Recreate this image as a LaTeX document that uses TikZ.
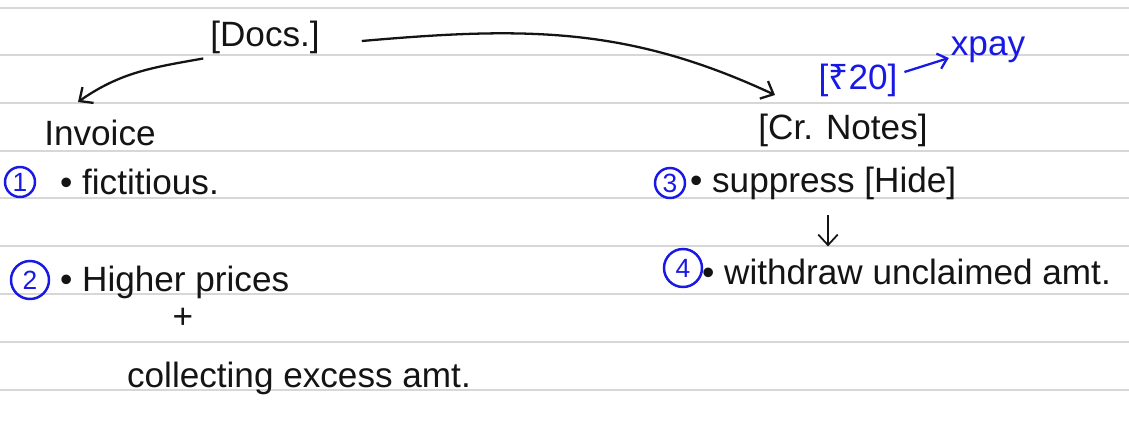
\documentclass[tikz,border=0pt]{standalone}
\usepackage{fontspec}
\setmainfont{Liberation Sans}
\newfontfamily\rupeefont{Noto Sans}
\usetikzlibrary{arrows.meta}
\definecolor{rule}{RGB}{215,215,215}
\definecolor{ink}{RGB}{20,20,20}
\definecolor{pen}{RGB}{25,25,230}
\tikzset{
  ruleline/.style={draw=rule, line width=0.8pt},
  hand/.style={text=ink, font=\fontsize{20}{22}\selectfont, inner sep=1pt},
  bluehand/.style={text=pen, font=\fontsize{20}{22}\selectfont, inner sep=1pt},
  num/.style={circle, draw=pen, line width=1.4pt, text=pen, inner sep=0pt, minimum size=0.6cm, font=\fontsize{15}{16}\selectfont},
  bignum/.style={num, minimum size=0.76cm},
  conn/.style={draw=ink, line width=1.3pt, -{Straight Barb[length=6pt,width=11pt]}},
  bconn/.style={draw=pen, line width=1.3pt, -{Straight Barb[length=5pt,width=9pt]}}
}
\begin{document}
\begin{tikzpicture}[x=0.02cm,y=-0.02cm]
\fill[white] (0,0) rectangle (1129,427);
\useasboundingbox (0,0) rectangle (1129,427);
\foreach \yy in {8,55,103,151,198,246,294,342,390}
  \draw[ruleline] (0,\yy) -- (1129,\yy);

% left branch
\node[hand] (docs) at (265,37) {[Docs.]};
\node[hand] (inv) at (100,133) {Invoice};
\node[num] (n1) at (20,182) {1};
\node[hand, anchor=west] (fict) at (58,182) {• fictitious.};
\node[bignum] (n2) at (30,280) {2};
\node[hand, anchor=west] (high) at (58,282) {• Higher prices};
\node[hand] (plus) at (183,318) {+};
\node[hand, anchor=west] (coll) at (125,378) {collecting excess amt.};

% right branch
\node[hand] (cr) at (843,130) {[Cr. Notes]};
\node[bluehand] (rs) at (858,80) {[{\rupeefont ₹}20]};
\node[bluehand] (xpay) at (988,50) {xpay};
\node[num] (n3) at (670,183) {3};
\node[hand, anchor=west] (supp) at (688,183) {• suppress [Hide]};
\node[bignum] (n4) at (683,268) {4};
\node[hand, anchor=west] (wd) at (700,272) {• withdraw unclaimed amt.};

% connectors
\draw[conn] (docs.south west) ++(-5,3) coordinate (dl) (dl) to[out=190,in=35] (78,102) coordinate (il);
\draw[conn] (docs.east) ++(40,4) coordinate (dr) (dr) to[out=5,in=155] (775,95) coordinate (cl);
\draw[bconn] (rs.east) ++(5,-8) coordinate (ra) (ra) -- (xpay.west |- 0,58);
\draw[conn, line width=1pt] (supp.south -| 828,0) ++(0,14) coordinate (da) (da) -- ([yshift=6]wd.north -| 828,0);
\end{tikzpicture}
\end{document}
